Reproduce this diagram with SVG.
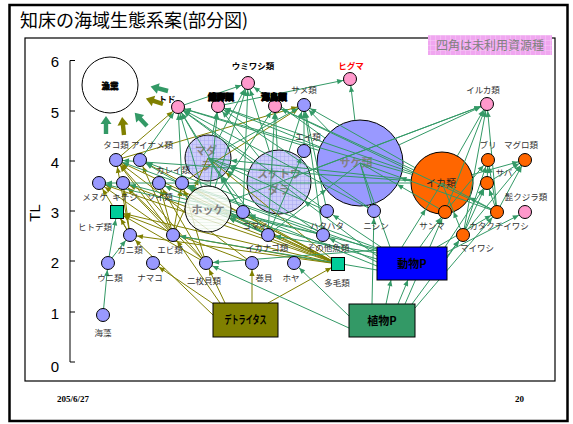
<svg xmlns="http://www.w3.org/2000/svg" width="573" height="424" viewBox="0 0 573 424">
<style>
.jp{font-family:"Noto Sans CJK JP","Noto Sans CJK SC",sans-serif}
.lb{font-family:"Noto Sans CJK JP","Noto Sans CJK SC",sans-serif;font-size:8.5px;fill:#333;text-anchor:middle}
.lbb{font-family:"Noto Sans CJK JP","Noto Sans CJK SC",sans-serif;font-size:8.5px;font-weight:bold;fill:#000;text-anchor:middle}
.blob{stroke:#000;stroke-width:1.3}
.big{font-family:"Noto Sans CJK JP","Noto Sans CJK SC",sans-serif;font-size:11px;font-weight:bold;fill:#808080;text-anchor:middle}
.nb{fill:#9999FF;stroke:#000;stroke-width:1}
.np{fill:#FF99CC;stroke:#000;stroke-width:1}
.no{fill:#FF6600;stroke:#000;stroke-width:1}
.sq{fill:#00CC99;stroke:#000;stroke-width:1}
.ax{font-family:"Liberation Sans",Arial,sans-serif;font-size:15px;fill:#000;text-anchor:middle}
#conn line{stroke-width:1;fill:none}
.g7{stroke:#339966;marker-end:url(#mg7)}
.g8{stroke:#339966;marker-end:url(#mg8)}
.g23{stroke:#339966;marker-end:url(#mg23)}
.g31{stroke:#339966;marker-end:url(#mg31)}
.g32{stroke:#339966;marker-end:url(#mg32)}
.g43{stroke:#339966;marker-end:url(#mg43)}
.gb{stroke:#339966;marker-end:url(#mgb)}
.o7{stroke:#808000;marker-end:url(#mo7)}
.o8{stroke:#808000;marker-end:url(#mo8)}
.o23{stroke:#808000;marker-end:url(#mo23)}
.bx{stroke:#000;stroke-width:1}
.bxt{font-family:"Noto Sans CJK JP","Noto Sans CJK SC",sans-serif;font-size:11px;font-weight:bold;fill:#000;text-anchor:middle}
</style>
<defs>
<marker id="mg7" markerUnits="userSpaceOnUse" markerWidth="40" markerHeight="6" refX="37" refY="3" orient="auto"><path d="M24,0.4 L30,3 L24,5.6 Z" fill="#339966"/></marker>
<marker id="mg8" markerUnits="userSpaceOnUse" markerWidth="40" markerHeight="6" refX="37.5" refY="3" orient="auto"><path d="M24,0.4 L30,3 L24,5.6 Z" fill="#339966"/></marker>
<marker id="mg23" markerUnits="userSpaceOnUse" markerWidth="40" markerHeight="6" refX="53" refY="3" orient="auto"><path d="M24,0.4 L30,3 L24,5.6 Z" fill="#339966"/></marker>
<marker id="mg31" markerUnits="userSpaceOnUse" markerWidth="40" markerHeight="6" refX="61" refY="3" orient="auto"><path d="M24,0.4 L30,3 L24,5.6 Z" fill="#339966"/></marker>
<marker id="mg32" markerUnits="userSpaceOnUse" markerWidth="40" markerHeight="6" refX="62" refY="3" orient="auto"><path d="M24,0.4 L30,3 L24,5.6 Z" fill="#339966"/></marker>
<marker id="mg43" markerUnits="userSpaceOnUse" markerWidth="40" markerHeight="6" refX="73" refY="3" orient="auto"><path d="M24,0.4 L30,3 L24,5.6 Z" fill="#339966"/></marker>
<marker id="mgb" markerUnits="userSpaceOnUse" markerWidth="40" markerHeight="6" refX="30" refY="3" orient="auto"><path d="M24,0.4 L30,3 L24,5.6 Z" fill="#339966"/></marker>
<marker id="mo7" markerUnits="userSpaceOnUse" markerWidth="40" markerHeight="6" refX="37" refY="3" orient="auto"><path d="M24,0.4 L30,3 L24,5.6 Z" fill="#808000"/></marker>
<marker id="mo8" markerUnits="userSpaceOnUse" markerWidth="40" markerHeight="6" refX="37.5" refY="3" orient="auto"><path d="M24,0.4 L30,3 L24,5.6 Z" fill="#808000"/></marker>
<marker id="mo23" markerUnits="userSpaceOnUse" markerWidth="40" markerHeight="6" refX="53" refY="3" orient="auto"><path d="M24,0.4 L30,3 L24,5.6 Z" fill="#808000"/></marker>
<pattern id="lav" patternUnits="userSpaceOnUse" width="4" height="4"><rect width="4" height="4" fill="#CDCDFA"/><path d="M0,0.3 H4 M0.3,0 V4" stroke="#A6A6F2" stroke-width="0.6"/></pattern>
<pattern id="pk" patternUnits="userSpaceOnUse" width="5" height="5"><rect width="5" height="5" fill="#F0A6F0"/><path d="M0,0.3 H5 M0.3,0 V5" stroke="#F8D0F8" stroke-width="0.6"/></pattern>
<pattern id="wh" patternUnits="userSpaceOnUse" width="4" height="3"><rect width="4" height="3" fill="#FAFDFA"/><path d="M0,0.5 H4" stroke="#DDEEDD" stroke-width="0.6"/></pattern>
</defs>
<rect width="573" height="424" fill="#fff"/>
<g id="frame">
<rect x="9.5" y="5" width="558" height="416" fill="none" stroke="#000" stroke-width="2.5"/>
<text class="jp" x="20" y="27" font-size="18" fill="#000">知床の海域生態系案(部分図)</text>
<rect x="25" y="38" width="530" height="343" fill="none" stroke="#000" stroke-width="1.2"/>
<text x="57" y="402" font-family="'Liberation Serif',serif" font-size="9" font-weight="bold" fill="#000">205/6/27</text>
<text x="515" y="402" font-family="'Liberation Serif',serif" font-size="9" font-weight="bold" fill="#000">20</text>
</g>
<g id="axis">
<path d="M75,60.5 H70 V362 H75 M70,111 H75 M70,161 H75 M70,211 H75 M70,261 H75 M70,312 H75" fill="none" stroke="#000" stroke-width="1"/>
<text class="ax" x="55" y="67">6</text>
<text class="ax" x="55" y="118">5</text>
<text class="ax" x="55" y="168">4</text>
<text class="ax" x="55" y="218">3</text>
<text class="ax" x="55" y="268">2</text>
<text class="ax" x="55" y="319">1</text>
<text class="ax" x="55" y="372">0</text>
<text class="ax" transform="translate(40,213) rotate(-90)" x="0" y="0">TL</text>
</g>
<g id="legend">
<rect x="428" y="35" width="124" height="20" fill="url(#pk)"/>
<text class="jp" x="490" y="50" font-size="12" fill="#808080" text-anchor="middle">四角は未利用資源種</text>
</g>
<g id="madara"><circle cx="208" cy="158" r="23" fill="url(#lav)" stroke="#000" stroke-width="1"/><text class="big" x="206" y="155" font-size="10">マダ<tspan x="206" dy="14.5">ラ</tspan></text></g>
<g id="suketoudara"><circle cx="279" cy="182" r="32" fill="url(#lav)" stroke="#000" stroke-width="1"/><text class="big" x="279" y="178">スケトウ<tspan x="279" dy="16">ダラ</tspan></text></g>
<g id="sake"><circle cx="360" cy="163" r="43" fill="#9999FF" stroke="#000" stroke-width="1"/><text class="big" x="356" y="167" font-size="12">サケ類</text></g>
<g id="ika"><circle cx="442" cy="183" r="31" fill="#FF6600" stroke="#000" stroke-width="1"/><text class="jp" x="441" y="187" font-size="10" fill="#222" text-anchor="middle">イカ類</text></g>
<g id="conn">
<line x1="215" y1="305" x2="153" y2="263" class="o7"/>
<line x1="225" y1="303" x2="206" y2="263" class="o7"/>
<line x1="252" y1="303" x2="252" y2="263" class="o7"/>
<line x1="268" y1="303" x2="338" y2="264" class="o8"/>
<line x1="213" y1="315" x2="130" y2="235" class="o7"/>
<line x1="220" y1="303" x2="173" y2="235" class="o7"/>
<line x1="338" y1="264" x2="117" y2="212" class="o8"/>
<line x1="338" y1="264" x2="130" y2="235" class="o7"/>
<line x1="338" y1="264" x2="173" y2="235" class="o7"/>
<line x1="338" y1="264" x2="116" y2="160" class="o7"/>
<line x1="338" y1="264" x2="99" y2="183" class="o7"/>
<line x1="338" y1="264" x2="123" y2="183" class="o7"/>
<line x1="338" y1="264" x2="159" y2="183" class="o7"/>
<line x1="338" y1="264" x2="182" y2="183" class="o7"/>
<line x1="338" y1="264" x2="140" y2="160" class="o7"/>
<line x1="338" y1="264" x2="208" y2="158" class="o23"/>
<line x1="338" y1="264" x2="208" y2="209" class="o23"/>
<line x1="338" y1="264" x2="243" y2="212" class="o7"/>
<line x1="173" y1="235" x2="116" y2="160" class="o7"/>
<line x1="173" y1="235" x2="99" y2="183" class="o7"/>
<line x1="173" y1="235" x2="123" y2="183" class="o7"/>
<line x1="173" y1="235" x2="159" y2="183" class="o7"/>
<line x1="173" y1="235" x2="182" y2="183" class="o7"/>
<line x1="173" y1="235" x2="140" y2="160" class="o7"/>
<line x1="173" y1="235" x2="208" y2="158" class="o23"/>
<line x1="130" y1="235" x2="116" y2="160" class="o7"/>
<line x1="130" y1="235" x2="117" y2="212" class="o8"/>
<line x1="130" y1="235" x2="123" y2="183" class="o7"/>
<line x1="130" y1="235" x2="99" y2="183" class="o7"/>
<line x1="206" y1="263" x2="117" y2="212" class="o8"/>
<line x1="206" y1="263" x2="116" y2="160" class="o7"/>
<line x1="206" y1="263" x2="182" y2="183" class="o7"/>
<line x1="206" y1="263" x2="123" y2="183" class="o7"/>
<line x1="206" y1="263" x2="159" y2="183" class="o7"/>
<line x1="252" y1="263" x2="116" y2="160" class="o7"/>
<line x1="252" y1="263" x2="117" y2="212" class="o8"/>
<line x1="116" y1="160" x2="178" y2="107" class="o7"/>
<line x1="116" y1="160" x2="304" y2="105" class="o7"/>
<line x1="182" y1="183" x2="304" y2="105" class="o7"/>
<line x1="103" y1="315" x2="108" y2="263" class="g7"/>
<line x1="108" y1="263" x2="130" y2="235" class="g7"/>
<line x1="108" y1="263" x2="117" y2="212" class="g8"/>
<line x1="386" y1="304" x2="391" y2="280" class="gb"/>
<line x1="398" y1="304" x2="408" y2="280" class="gb"/>
<line x1="372" y1="304" x2="374" y2="211" class="g7"/>
<line x1="405" y1="304" x2="445" y2="212" class="g7"/>
<line x1="412" y1="304" x2="463" y2="235" class="g7"/>
<line x1="415" y1="308" x2="497" y2="212" class="g7"/>
<line x1="349" y1="316" x2="294" y2="263" class="g7"/>
<line x1="349" y1="328" x2="206" y2="263" class="g7"/>
<line x1="377" y1="250" x2="206" y2="263" class="g7"/>
<line x1="377" y1="256" x2="279" y2="182" class="g32"/>
<line x1="377" y1="259" x2="208" y2="209" class="g23"/>
<line x1="377" y1="253" x2="268" y2="235" class="g7"/>
<line x1="377" y1="262" x2="323" y2="235" class="g7"/>
<line x1="381" y1="247" x2="327" y2="211" class="g7"/>
<line x1="377" y1="266" x2="243" y2="212" class="g7"/>
<line x1="377" y1="270" x2="173" y2="235" class="g7"/>
<line x1="377" y1="248" x2="140" y2="160" class="g7"/>
<line x1="377" y1="251" x2="182" y2="183" class="g7"/>
<line x1="377" y1="249" x2="123" y2="183" class="g7"/>
<line x1="390" y1="247" x2="360" y2="163" class="g43"/>
<line x1="402" y1="247" x2="442" y2="183" class="g31"/>
<line x1="420" y1="247" x2="445" y2="212" class="g7"/>
<line x1="437" y1="247" x2="497" y2="212" class="g7"/>
<line x1="447" y1="252" x2="525" y2="212" class="g7"/>
<line x1="447" y1="258" x2="463" y2="235" class="g7"/>
<line x1="445" y1="247" x2="487" y2="183" class="g7"/>
<line x1="201.5" y1="186.9" x2="178" y2="107" class="g7"/>
<line x1="210.2" y1="186.1" x2="218" y2="106" class="g7"/>
<line x1="215" y1="187.1" x2="248" y2="83" class="g7"/>
<line x1="220.5" y1="189.7" x2="275" y2="106" class="g7"/>
<line x1="229.5" y1="200.9" x2="487" y2="104" class="g7"/>
<line x1="253.3" y1="162.9" x2="178" y2="107" class="g7"/>
<line x1="259" y1="157" x2="218" y2="106" class="g7"/>
<line x1="269.4" y1="151.4" x2="248" y2="83" class="g7"/>
<line x1="277.3" y1="150" x2="275" y2="106" class="g7"/>
<line x1="288.9" y1="151.6" x2="304" y2="105" class="g7"/>
<line x1="309" y1="170.8" x2="487" y2="104" class="g7"/>
<line x1="248.7" y1="171.8" x2="208" y2="158" class="g23"/>
<line x1="354.9" y1="120.3" x2="350" y2="79" class="g7"/>
<line x1="318.9" y1="150.4" x2="178" y2="107" class="g7"/>
<line x1="320.1" y1="147" x2="218" y2="106" class="g7"/>
<line x1="325" y1="138" x2="248" y2="83" class="g7"/>
<line x1="330.1" y1="132" x2="304" y2="105" class="g7"/>
<line x1="399" y1="144.9" x2="487" y2="104" class="g7"/>
<line x1="196.3" y1="138.2" x2="178" y2="107" class="g7"/>
<line x1="212.3" y1="135.4" x2="218" y2="106" class="g7"/>
<line x1="218.8" y1="137.7" x2="248" y2="83" class="g7"/>
<line x1="228.1" y1="146.9" x2="304" y2="105" class="g7"/>
<line x1="457.3" y1="156" x2="487" y2="104" class="g7"/>
<line x1="415" y1="167.7" x2="304" y2="105" class="g7"/>
<line x1="412.2" y1="174.4" x2="178" y2="107" class="g7"/>
<line x1="412.7" y1="172.9" x2="218" y2="106" class="g7"/>
<line x1="413.9" y1="170" x2="275" y2="106" class="g7"/>
<line x1="471.9" y1="174.7" x2="525" y2="160" class="g7"/>
<line x1="411.2" y1="179.7" x2="208" y2="158" class="g23"/>
<line x1="411.1" y1="180.8" x2="116" y2="160" class="g7"/>
<line x1="411" y1="183" x2="99" y2="183" class="g7"/>
<line x1="268" y1="235" x2="140" y2="160" class="g7"/>
<line x1="268" y1="235" x2="159" y2="183" class="g7"/>
<line x1="268" y1="235" x2="182" y2="183" class="g7"/>
<line x1="268" y1="235" x2="208" y2="158" class="g23"/>
<line x1="268" y1="235" x2="208" y2="209" class="g23"/>
<line x1="268" y1="235" x2="360" y2="163" class="g43"/>
<line x1="268" y1="235" x2="275" y2="106" class="g7"/>
<line x1="268" y1="235" x2="304" y2="151" class="g7"/>
<line x1="323" y1="235" x2="116" y2="160" class="g7"/>
<line x1="323" y1="235" x2="99" y2="183" class="g7"/>
<line x1="323" y1="235" x2="208" y2="158" class="g23"/>
<line x1="323" y1="235" x2="304" y2="105" class="g7"/>
<line x1="327" y1="211" x2="208" y2="158" class="g23"/>
<line x1="327" y1="211" x2="178" y2="107" class="g7"/>
<line x1="327" y1="211" x2="304" y2="105" class="g7"/>
<line x1="243" y1="212" x2="208" y2="158" class="g23"/>
<line x1="243" y1="212" x2="248" y2="83" class="g7"/>
<line x1="243" y1="212" x2="178" y2="107" class="g7"/>
<line x1="374" y1="211" x2="178" y2="107" class="g7"/>
<line x1="374" y1="211" x2="218" y2="106" class="g7"/>
<line x1="374" y1="211" x2="360" y2="163" class="g43"/>
<line x1="182" y1="183" x2="178" y2="107" class="g7"/>
<line x1="140" y1="160" x2="178" y2="107" class="g7"/>
<line x1="497" y1="212" x2="488" y2="160" class="g7"/>
<line x1="497" y1="212" x2="525" y2="160" class="g7"/>
<line x1="497" y1="212" x2="487" y2="183" class="g7"/>
<line x1="497" y1="212" x2="442" y2="183" class="g31"/>
<line x1="497" y1="212" x2="360" y2="163" class="g43"/>
<line x1="497" y1="212" x2="275" y2="106" class="g7"/>
<line x1="497" y1="212" x2="487" y2="104" class="g7"/>
<line x1="463" y1="235" x2="488" y2="160" class="g7"/>
<line x1="463" y1="235" x2="525" y2="160" class="g7"/>
<line x1="463" y1="235" x2="487" y2="183" class="g7"/>
<line x1="463" y1="235" x2="487" y2="104" class="g7"/>
<line x1="463" y1="235" x2="442" y2="183" class="g31"/>
<line x1="445" y1="212" x2="488" y2="160" class="g7"/>
<line x1="445" y1="212" x2="487" y2="104" class="g7"/>
<line x1="445" y1="212" x2="360" y2="163" class="g43"/>
<line x1="487" y1="183" x2="525" y2="160" class="g7"/>
<line x1="487" y1="183" x2="488" y2="160" class="g7"/>
<line x1="304" y1="151" x2="304" y2="105" class="g7"/>
<line x1="178" y1="107" x2="248" y2="83" class="g7"/>
<line x1="218" y1="106" x2="350" y2="79" class="g7"/>
</g>
<g id="hokke"><circle cx="208" cy="209" r="23" fill="url(#wh)" fill-opacity="0.8" stroke="#000" stroke-width="1"/><text class="big" x="208" y="214">ホッケ</text></g>
<g id="tako"><circle class="nb" cx="116" cy="160" r="6.5"/><text class="lb" x="116" y="148">タコ類</text></g>
<g id="ainame"><circle class="nb" cx="140" cy="160" r="6.5"/><text class="lb" x="152" y="148">アイナメ類</text></g>
<g id="menuke"><circle class="nb" cx="99" cy="183" r="6.5"/><text class="lb" x="95" y="200">メヌケ</text></g>
<g id="kichiji"><circle class="nb" cx="123" cy="183" r="6.5"/><text class="lb" x="125" y="200">キチジ</text></g>
<g id="soi"><circle class="nb" cx="159" cy="183" r="6.5"/><text class="lb" x="160" y="200">ソイ類</text></g>
<g id="karei"><circle class="nb" cx="182" cy="183" r="6.5"/><text class="lb" x="173" y="173">カレイ類</text></g>
<g id="hitode"><rect class="sq" x="110.5" y="205.5" width="13" height="13"/><text class="lb" x="95" y="230">ヒトデ類</text></g>
<g id="kani"><circle class="nb" cx="130" cy="235" r="6.5"/><text class="lb" x="130" y="253">カニ類</text></g>
<g id="ebi"><circle class="nb" cx="173" cy="235" r="6.5"/><text class="lb" x="170" y="253">エビ類</text></g>
<g id="uni"><circle class="nb" cx="108" cy="263" r="6.5"/><text class="lb" x="110" y="281">ウニ類</text></g>
<g id="namako"><circle class="nb" cx="153" cy="263" r="6.5"/><text class="lb" x="150" y="281">ナマコ</text></g>
<g id="nimaigai"><circle class="nb" cx="206" cy="263" r="6.5"/><text class="lb" x="204" y="284">二枚貝類</text></g>
<g id="kaisou"><circle class="nb" cx="103" cy="315" r="6.5"/><text class="lb" x="103" y="336" font-size="9.5">海藻</text></g>
<g id="makigai"><circle class="nb" cx="252" cy="263" r="6.5"/><text class="lb" x="264" y="281">巻貝</text></g>
<g id="hoya"><circle class="nb" cx="294" cy="263" r="6.5"/><text class="lb" x="291" y="281">ホヤ</text></g>
<g id="tamou"><rect class="sq" x="331.5" y="257.5" width="13" height="13"/><text class="lb" x="337" y="286">多毛類</text></g>
<g id="ikanago"><circle class="nb" cx="268" cy="235" r="6.5"/><text class="lb" x="267" y="251">イカナゴ類</text></g>
<g id="sonota"><circle class="nb" cx="323" cy="235" r="6.5"/><text class="lb" x="328" y="251">その他魚類</text></g>
<g id="komai"><circle class="nb" cx="243" cy="212" r="6.5"/><text class="lb" x="255" y="229">コマイ</text></g>
<g id="hatahata"><circle class="nb" cx="327" cy="211" r="6.5"/><text class="lb" x="327" y="229">ハタハタ</text></g>
<g id="nishin"><circle class="nb" cx="374" cy="211" r="6.5"/><text class="lb" x="376" y="229">ニシン</text></g>
<g id="ei"><circle class="nb" cx="304" cy="151" r="6.5"/><text class="lb" x="308" y="140">エイ類</text></g>
<g id="same"><circle class="nb" cx="304" cy="105" r="6.5"/><text class="lb" x="304" y="93">サメ類</text></g>
<g id="higuma"><circle class="np" cx="350" cy="79" r="6.5"/><text class="lbb" x="351" y="69" style="fill:#FF0000">ヒグマ</text></g>
<g id="iruka"><circle class="np" cx="487" cy="104" r="6.5"/><text class="lb" x="483" y="93">イルカ類</text></g>
<g id="umiwashi"><circle class="np" cx="248" cy="83" r="6.5"/><text class="lbb" x="253" y="69">ウミワシ類</text></g>
<g id="kikyaku"><circle class="np" cx="218" cy="106" r="6.5"/><text class="lbb blob" x="221" y="100">鰭脚類</text></g>
<g id="kaichou"><circle class="np" cx="275" cy="106" r="6.5"/><text class="lbb blob" x="274" y="100">海鳥類</text></g>
<g id="todo"><circle class="np" cx="178" cy="107" r="6.5"/><text class="lbb" x="167" y="102">トド</text></g>
<g id="buri"><circle class="no" cx="488" cy="160" r="6.5"/><text class="lb" x="488" y="148">ブリ</text></g>
<g id="maguro"><circle class="no" cx="525" cy="160" r="6.5"/><text class="lb" x="521" y="148">マグロ類</text></g>
<g id="saba"><circle class="no" cx="487" cy="183" r="6.5"/><text class="lb" x="504" y="176">サバ</text></g>
<g id="higekujira"><circle class="np" cx="525" cy="212" r="6.5"/><text class="lb" x="526" y="200">髭クジラ類</text></g>
<g id="sanma"><circle class="no" cx="445" cy="212" r="6.5"/><text class="lb" x="432" y="229">サンマ</text></g>
<g id="katakuchi"><circle class="no" cx="497" cy="212" r="6.5"/><text class="lb" x="499" y="229">カタクチイワシ</text></g>
<g id="maiwashi"><circle class="no" cx="463" cy="235" r="6.5"/><text class="lb" x="477" y="251">マイワシ</text></g>
<g id="detritus"><rect class="bx" x="213" y="303" width="65" height="34" fill="#808000"/><text class="bxt" x="245.5" y="324" font-size="10" textLength="42" lengthAdjust="spacingAndGlyphs">デトライタス</text></g>
<g id="shokubutsuP"><rect class="bx" x="349" y="304" width="66" height="33" fill="#339966"/><text class="bxt" x="382" y="325">植物P</text></g>
<g id="doubutsuP"><rect class="bx" x="377" y="247" width="70" height="33" fill="#0000FF"/><text class="bxt" x="412" y="268">動物P</text></g>
<g id="gyogyou"><circle cx="110" cy="85" r="28" fill="#fff" stroke="#000" stroke-width="1"/><text class="lbb" x="110" y="89" font-size="10" stroke="#000" stroke-width="0.6">漁業</text></g>
<g id="fishery-arrows">
<polygon points="0,-2.2 10,-2.2 10,-5.5 18,0 10,5.5 10,2.2 0,2.2" fill="#339966" transform="translate(168,91) rotate(194.7)"/>
<polygon points="0,-2.2 10,-2.2 10,-5.5 18,0 10,5.5 10,2.2 0,2.2" fill="#808000" transform="translate(163,104) rotate(198)"/>
<polygon points="0,-2.2 10,-2.2 10,-5.5 18,0 10,5.5 10,2.2 0,2.2" fill="#339966" transform="translate(106,134) rotate(270)"/>
<polygon points="0,-2.2 10,-2.2 10,-5.5 18,0 10,5.5 10,2.2 0,2.2" fill="#808000" transform="translate(124,135) rotate(264)"/>
<polygon points="0,-2.2 10,-2.2 10,-5.5 18,0 10,5.5 10,2.2 0,2.2" fill="#339966" transform="translate(147,126) rotate(227)"/>
</g>
</svg>
